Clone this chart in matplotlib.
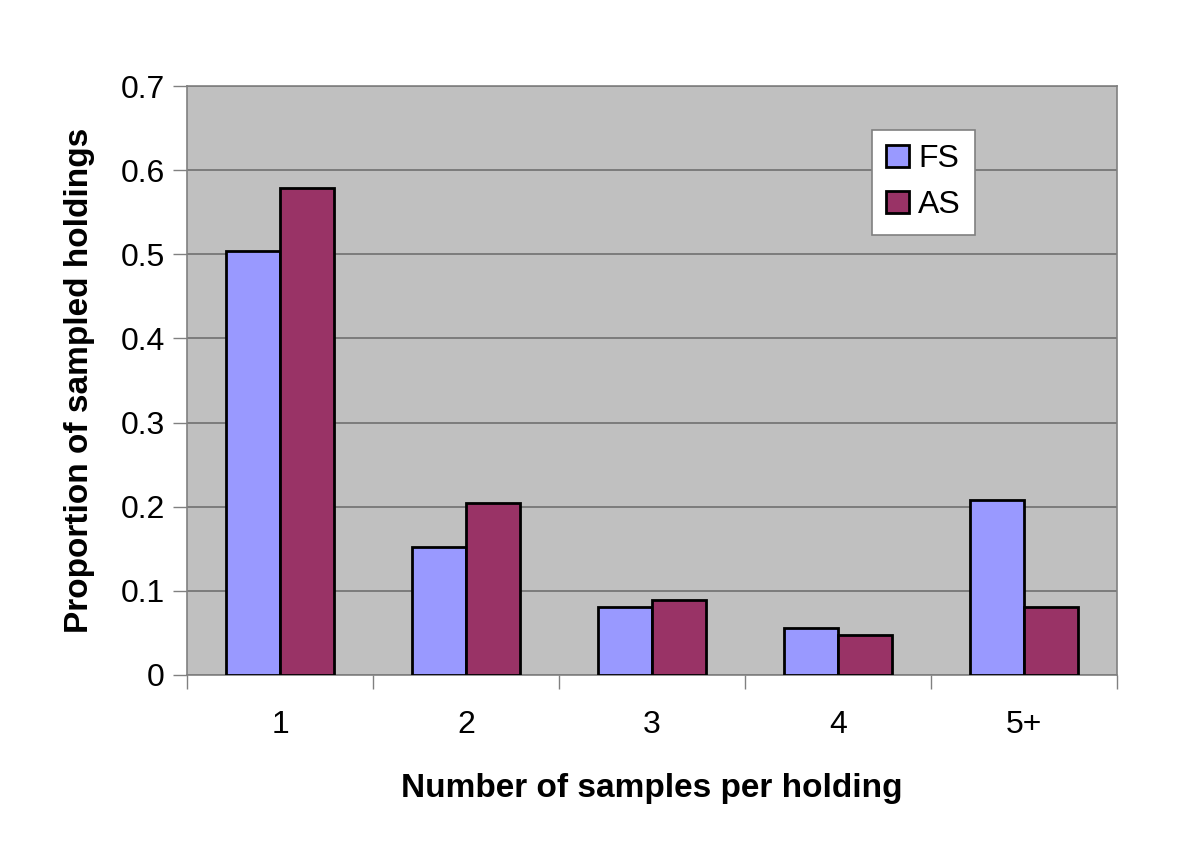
import matplotlib
matplotlib.use("Agg")
import matplotlib.pyplot as plt
import numpy as np

categories = ["1", "2", "3", "4", "5+"]
fs_values = [0.504, 0.152, 0.081, 0.056, 0.208]
as_values = [0.579, 0.204, 0.089, 0.048, 0.081]

plt.rcParams["font.family"] = ["Liberation Sans", "DejaVu Sans"]

fig = plt.figure(figsize=(12, 8.49), dpi=100)
ax = fig.add_axes([187/1200, 1 - 675/849, 930/1200, 589/849])

x = np.arange(len(categories))
w = 0.288
ax.bar(x - w/2, fs_values, w, color="#9999FF", edgecolor="black", linewidth=2, label="FS", zorder=3)
ax.bar(x + w/2, as_values, w, color="#993366", edgecolor="black", linewidth=2, label="AS", zorder=3)

ax.set_facecolor("#C0C0C0")
ax.set_xlim(-0.5, len(categories) - 0.5)
ax.set_ylim(0, 0.7)
ax.set_yticks(np.arange(0, 0.71, 0.1))
ax.set_yticklabels(["0", "0.1", "0.2", "0.3", "0.4", "0.5", "0.6", "0.7"])
ax.yaxis.grid(True, color="#707070", linewidth=1.2, zorder=0)

# category labels at centers, tick marks at boundaries
ax.set_xticks(x)
ax.set_xticklabels(categories)
ax.tick_params(axis="x", length=0, pad=25, labelsize=23)
ax.set_xticks(np.arange(-0.5, len(categories)), minor=True)
ax.tick_params(axis="x", which="minor", length=10, width=1, color="#808080")
ax.tick_params(axis="y", length=10, width=1, color="#808080", labelsize=23, pad=6)

for s in ax.spines.values():
    s.set_color("#808080")
    s.set_linewidth(1.2)

ax.set_xlabel("Number of samples per holding", fontsize=24, fontweight="bold", labelpad=24)
ax.set_ylabel("Proportion of sampled holdings", fontsize=24, fontweight="bold", labelpad=18)

leg = ax.legend(loc="upper left", bbox_to_anchor=((872-187)/930, (675-130)/589),
                borderaxespad=0, fontsize=23, frameon=True, fancybox=False,
                handlelength=0.7, handleheight=0.7, handletextpad=0.3,
                borderpad=0.45, labelspacing=0.5)
leg.get_frame().set_edgecolor("#808080")
leg.get_frame().set_linewidth(1.2)
leg.get_frame().set_facecolor("white")
leg.get_frame().set_alpha(1)

plt.savefig("out.png", dpi=100)
